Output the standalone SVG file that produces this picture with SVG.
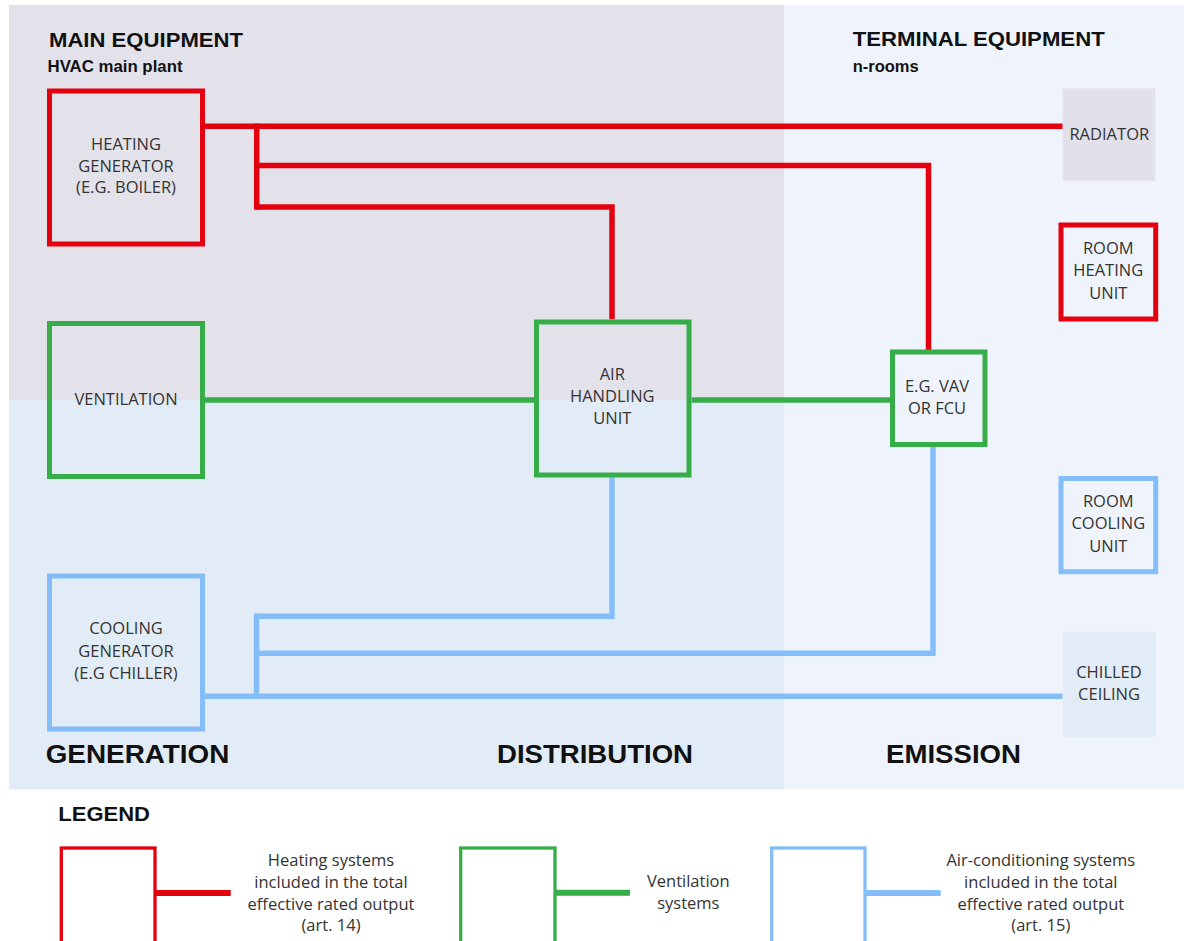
<svg xmlns="http://www.w3.org/2000/svg" width="1184" height="941" viewBox="0 0 1184 941">
<style>
.title{font-family:"Liberation Sans",Arial,sans-serif;font-weight:bold;fill:#111}
.node{font-family:"Open Sans","Noto Sans",sans-serif;font-size:16.5px;fill:#333;text-anchor:middle}
.leg{font-family:"Open Sans","Noto Sans",sans-serif;font-size:16.5px;fill:#333;text-anchor:middle}
.red{stroke:#e3000f}
.green{stroke:#37ad4a}
.blue{stroke:#84bdf8}
.box{fill:none;stroke-width:5}
.pipe{fill:none;stroke-width:5.5;stroke-linejoin:miter;stroke-linecap:butt}
</style>
<rect x="0" y="0" width="1184" height="941" fill="#ffffff"/>
<g id="background">
<rect x="9" y="5" width="775" height="395" fill="#e3e1ea"/>
<rect x="9" y="400" width="775" height="389.5" fill="#e2ecf6"/>
<rect x="784" y="5" width="400" height="784.5" fill="#eff4fc"/>
</g>
<g id="headings">
<text class="title" x="49" y="46.5" font-size="21" textLength="194" lengthAdjust="spacingAndGlyphs">MAIN EQUIPMENT</text>
<text class="title" x="47.5" y="71.5" font-size="16" textLength="135" lengthAdjust="spacingAndGlyphs">HVAC main plant</text>
<text class="title" x="852.7" y="46" font-size="21" textLength="252" lengthAdjust="spacingAndGlyphs">TERMINAL EQUIPMENT</text>
<text class="title" x="852.7" y="71.5" font-size="16" textLength="66" lengthAdjust="spacingAndGlyphs">n-rooms</text>
<text class="title" x="45.7" y="763.3" font-size="26" textLength="183.7" lengthAdjust="spacingAndGlyphs">GENERATION</text>
<text class="title" x="497" y="763.3" font-size="26" textLength="196" lengthAdjust="spacingAndGlyphs">DISTRIBUTION</text>
<text class="title" x="886" y="763.3" font-size="26" textLength="135" lengthAdjust="spacingAndGlyphs">EMISSION</text>
<text class="title" x="58.3" y="820.7" font-size="20.5" textLength="91.7" lengthAdjust="spacingAndGlyphs">LEGEND</text>
</g>
<g id="connectors">
<path class="pipe red" d="M204.7 126.3 H1062.7"/>
<path class="pipe red" d="M256.7 123.6 V209.75"/>
<path class="pipe red" d="M256.7 165.5 H928.5 V350"/>
<path class="pipe red" d="M256.7 207 H612 V319.3"/>
<path class="pipe green" d="M204.7 400 H534"/>
<path class="pipe green" d="M691.7 400 H890.3"/>
<path class="pipe blue" d="M204.7 696.3 H1062.7"/>
<path class="pipe blue" d="M256.5 613.55 V699"/>
<path class="pipe blue" d="M256.5 616.3 H612 V477.3"/>
<path class="pipe blue" d="M256.5 653.3 H933 V446.7"/>
</g>
<g id="heating-generator">
<rect class="box red" x="49.5" y="91" width="153" height="153"/>
<text class="node" x="126" y="150">HEATING</text>
<text class="node" x="126" y="171.7">GENERATOR</text>
<text class="node" x="126" y="193.3">(E.G. BOILER)</text>
</g>
<g id="ventilation">
<rect class="box green" x="49.5" y="323.5" width="153" height="153"/>
<text class="node" x="126" y="405">VENTILATION</text>
</g>
<g id="cooling-generator">
<rect class="box blue" x="49.5" y="576" width="153" height="153"/>
<text class="node" x="126" y="634">COOLING</text>
<text class="node" x="126" y="656.5">GENERATOR</text>
<text class="node" x="126" y="678.5">(E.G CHILLER)</text>
</g>
<g id="air-handling-unit">
<rect class="box green" x="536.5" y="322" width="152.5" height="153"/>
<text class="node" x="612.3" y="380">AIR</text>
<text class="node" x="612.3" y="401.7">HANDLING</text>
<text class="node" x="612.3" y="424">UNIT</text>
</g>
<g id="vav-fcu">
<rect class="box green" x="892.5" y="352" width="92.5" height="92.5" stroke-width="4.3"/>
<text class="node" x="937" y="391.7">E.G. VAV</text>
<text class="node" x="937" y="414">OR FCU</text>
</g>
<g id="radiator">
<rect x="1062.7" y="88.3" width="92.6" height="92.4" fill="#e2e0ea"/>
<text class="node" x="1109.3" y="140">RADIATOR</text>
</g>
<g id="room-heating-unit">
<rect class="box red" x="1061" y="225" width="94.7" height="94" stroke-width="3.2"/>
<text class="node" x="1108.3" y="254">ROOM</text>
<text class="node" x="1108.3" y="276.3">HEATING</text>
<text class="node" x="1108.3" y="299">UNIT</text>
</g>
<g id="room-cooling-unit">
<rect class="box blue" x="1061" y="478.5" width="94.7" height="93.2" stroke-width="3.2"/>
<text class="node" x="1108.3" y="506.7">ROOM</text>
<text class="node" x="1108.3" y="529">COOLING</text>
<text class="node" x="1108.3" y="551.7">UNIT</text>
</g>
<g id="chilled-ceiling">
<rect x="1062.7" y="631.7" width="93" height="105" fill="#e2ecf6"/>
<text class="node" x="1109" y="678.3">CHILLED</text>
<text class="node" x="1109" y="700.3">CEILING</text>
</g>
<g id="legend-heating">
<rect x="61.3" y="848" width="93.7" height="100" fill="none" stroke="#e3000f" stroke-width="3.3"/>
<path d="M155 893 H230.7" stroke="#e3000f" stroke-width="6" fill="none"/>
<text class="leg" x="331" y="866">Heating systems</text>
<text class="leg" x="331" y="888">included in the total</text>
<text class="leg" x="331" y="909.7">effective rated output</text>
<text class="leg" x="331" y="931.3">(art. 14)</text>
</g>
<g id="legend-ventilation">
<rect x="460.7" y="848" width="94.3" height="100" fill="none" stroke="#37ad4a" stroke-width="3.3"/>
<path d="M555 892.7 H630" stroke="#37ad4a" stroke-width="6" fill="none"/>
<text class="leg" x="688.3" y="886.5">Ventilation</text>
<text class="leg" x="688.3" y="908.5">systems</text>
</g>
<g id="legend-air-conditioning">
<rect x="771.7" y="848" width="93.3" height="100" fill="none" stroke="#84bdf8" stroke-width="3.3"/>
<path d="M865 893 H940.7" stroke="#84bdf8" stroke-width="6" fill="none"/>
<text class="leg" x="1040.8" y="866">Air-conditioning systems</text>
<text class="leg" x="1040.8" y="888">included in the total</text>
<text class="leg" x="1040.8" y="909.7">effective rated output</text>
<text class="leg" x="1040.8" y="931.3">(art. 15)</text>
</g>
</svg>
